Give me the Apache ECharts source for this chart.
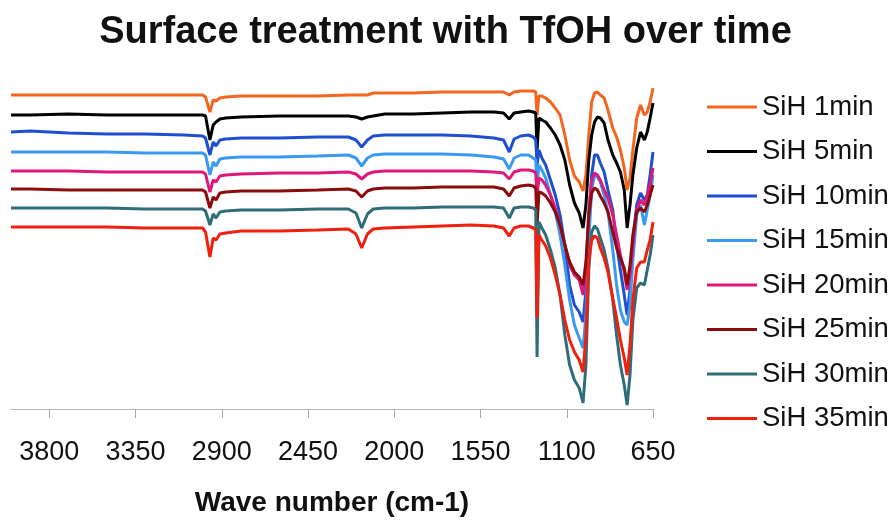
<!DOCTYPE html>
<html>
<head>
<meta charset="utf-8">
<script src="https://cdn.jsdelivr.net/npm/echarts@6/dist/echarts.min.js"></script>
<style>
  html, body { margin: 0; padding: 0; background: #ffffff; }
  #chart { width: 891px; height: 520px; }
</style>
</head>
<body>
<div id="chart"></div>
<script>
// Wave numbers (cm-1) shared by every spectrum
var waveNumbers = [4000,3900,3700,3500,3300,3100,3000,2985,2962,2945,2930,2910,2880,2800,2600,2400,2240,2200,2170,2140,2110,2050,1900,1750,1600,1480,1430,1400,1375,1340,1300,1275,1262,1255,1245,1230,1210,1185,1160,1135,1110,1085,1060,1035,1015,1000,985,970,955,940,925,905,885,860,840,820,800,785,770,755,735,715,695,680,665,650];

// Offset transmittance (a.u.)
var sih1 = [314,314,314,314,314,314,314,312,297,309,308,311,312,313,313,313,314,314,314,314,316,316,316,317,317,317,317,314,317,318,318,318,317,294,313,313,311,307,301,294,274,249,233,227,218,234,274,307,316,317,314,311,299,281,272,259,241,219,231,259,291,304,294,297,307,321];
var sih5 = [294,294,295,294,294,294,294,293,269,284,287,290,291,292,293,293,293,292,290,292,293,295,295,296,297,297,296,290,296,297,298,297,296,259,291,289,287,281,274,264,249,224,206,196,181,204,249,274,287,292,291,286,269,254,246,237,219,181,204,234,261,277,269,277,291,306];
var sih10 = [277,278,276,275,275,274,273,271,254,267,263,269,270,271,271,272,272,269,262,269,273,274,274,274,273,271,269,257,270,273,274,272,269,244,259,251,244,229,214,194,164,124,104,97,87,119,189,234,254,254,246,237,219,199,164,139,114,94,119,169,204,216,209,214,234,257];
var sih15 = [257,257,257,257,256,256,256,254,234,247,243,250,251,252,252,253,254,251,243,251,254,255,255,255,254,252,250,240,251,254,254,251,249,224,244,239,231,214,197,174,144,109,84,71,61,94,169,219,234,232,227,214,197,159,124,99,87,84,104,149,194,204,184,199,214,234];
var sih20 = [238,238,238,237,237,237,237,235,217,229,227,233,234,235,236,236,237,235,230,235,237,238,238,238,238,237,236,230,237,239,239,238,236,214,231,229,224,214,201,184,164,144,134,129,114,139,199,229,236,234,229,219,211,194,174,154,137,119,134,164,199,209,204,214,224,241];
var sih25 = [220,220,219,219,219,219,219,217,201,212,209,216,217,218,218,219,220,218,212,218,220,221,221,222,222,222,220,213,221,223,224,223,221,184,217,216,213,206,197,184,164,147,137,132,124,147,194,216,221,219,213,206,197,177,161,151,141,124,144,174,197,201,197,204,214,224];
var sih30 = [201,201,201,201,200,200,200,198,184,195,191,197,198,199,199,200,200,196,181,195,200,201,201,202,202,202,201,191,201,202,202,201,199,52,187,181,174,159,141,114,74,44,29,21,6,44,139,177,183,180,171,159,141,109,74,44,24,4,34,89,121,126,124,139,154,174];
var sih35 = [182,182,182,182,181,181,181,177,152,171,169,175,176,178,178,179,180,175,161,175,180,181,182,183,184,183,181,173,181,183,183,181,179,91,174,169,163,151,134,114,89,69,57,49,37,74,149,169,173,171,161,151,137,111,91,69,51,34,64,109,141,147,147,159,169,187];

var seriesNames = ['SiH 1min','SiH 5min','SiH 10min','SiH 15min','SiH 20min','SiH 25min','SiH 30min','SiH 35min'];
var seriesValues = [sih1, sih5, sih10, sih15, sih20, sih25, sih30, sih35];
var seriesColors = ['#f4661f','#000000','#1e4fd0','#3a9af2','#e0187c','#8a0c0c','#2f6d78','#f0200e'];
var tickValues = [3800,3350,2900,2450,2000,1550,1100,650];

var FONT = '"Liberation Sans", Arial, sans-serif';

var chart = echarts.init(document.getElementById('chart'), null, { renderer: 'canvas' });

var series = seriesNames.map(function (name, k) {
  return {
    name: name,
    type: 'line',
    symbol: 'none',
    showSymbol: false,
    animation: false,
    lineStyle: { width: 3, color: seriesColors[k] },
    itemStyle: { color: seriesColors[k] },
    data: waveNumbers.map(function (w, i) { return [w, seriesValues[k][i]]; })
  };
});

chart.setOption({
  animation: false,
  backgroundColor: '#ffffff',
  title: {
    text: 'Surface treatment with TfOH over time',
    left: 'center',
    top: 9,
    textStyle: { fontFamily: FONT, fontSize: 38, fontWeight: 'bold', color: '#111111' }
  },
  legend: {
    orient: 'vertical',
    left: 702,
    top: 88,
    icon: 'rect',
    itemWidth: 50,
    itemHeight: 3,
    itemGap: 16.5,
    textStyle: { fontFamily: FONT, fontSize: 27.5, lineHeight: 28, color: '#111111' },
    data: seriesNames
  },
  grid: { left: 11, right: 238, top: 84, bottom: 111, containLabel: false, outerBoundsMode: 'none' },
  xAxis: {
    type: 'value',
    min: 650,
    max: 4000,
    inverse: true,
    name: 'Wave number (cm-1)',
    nameLocation: 'middle',
    nameGap: 80,
    nameTextStyle: { fontFamily: FONT, fontSize: 28, fontWeight: 'bold', color: '#111111' },
    axisLine: { show: true, lineStyle: { color: '#b8b8b8', width: 1 } },
    axisTick: { show: true, length: 9, lineStyle: { color: '#a8a8a8' }, customValues: tickValues },
    axisLabel: {
      fontFamily: FONT, fontSize: 27, color: '#111111', margin: 30,
      customValues: tickValues,
      formatter: function (v) { return String(v); }
    },
    splitLine: { show: false }
  },
  yAxis: {
    type: 'value',
    min: 0,
    max: 325,
    show: false,
    splitLine: { show: false }
  },
  series: series
});
</script>
</body>
</html>
